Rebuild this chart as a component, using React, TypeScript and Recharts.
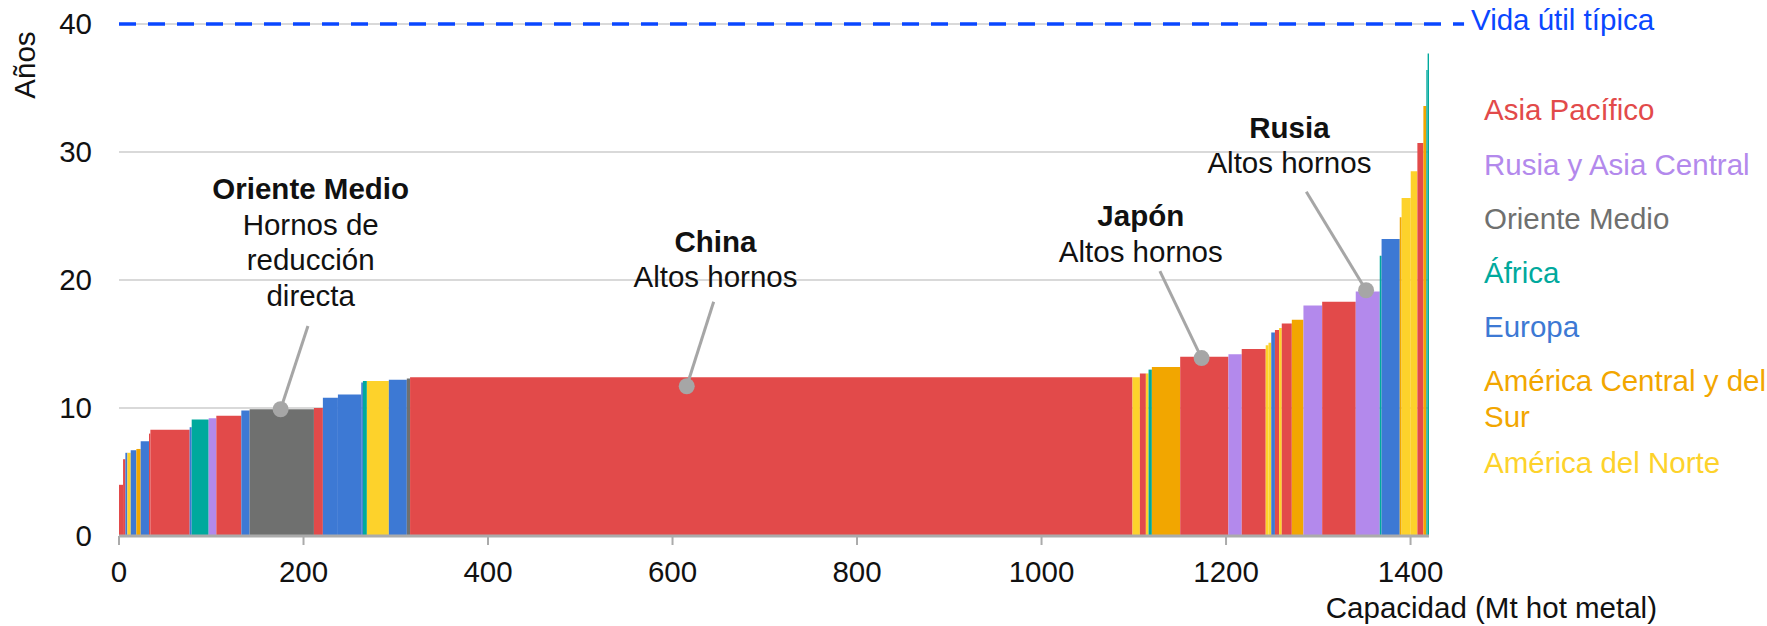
import React from "react";
import {
  ComposedChart,
  XAxis,
  YAxis,
  CartesianGrid,
  ReferenceArea,
  ReferenceLine,
  ReferenceDot,
  Customized,
} from "recharts";

// regions (legend order) and their colours
const regionNames = [
  "Asia Pacífico",
  "Rusia y Asia Central",
  "Oriente Medio",
  "África",
  "Europa",
  "América Central y del Sur",
  "América del Norte",
];
const regionCodes = ["AP", "RU", "ME", "AF", "EU", "CS", "NA"];
const regionColors = ["#e24a4a", "#b389ec", "#6f706f", "#00a99d", "#3d79d4", "#f2a600", "#fdd22b"];

// one entry per plant group, sorted by age
const capacity = [
  4.4, 2.5, 2.2, 3.6, 6.1, 4.7, 9.0, 1.5, 42.6, 2.2, 18.4, 8.3, 27.1, 9.0, 69.7, 9.7, 16.3, 25.3, 1.8, 4.3,
  23.8, 19.5, 3.5, 783.1, 8.0, 6.5, 2.9, 3.6, 30.7, 52.3, 14.4, 26.0, 3.0, 3.0, 4.0, 4.5, 2.9, 10.9, 12.6,
  20.3, 36.4, 26.0, 2.0, 19.7, 2.0, 9.9, 7.2, 6.5, 3.2, 1.4, 1.5,
];
const age = [
  4.0, 6.0, 6.5, 6.5, 6.7, 6.8, 7.4, 8.0, 8.3, 8.5, 9.1, 9.2, 9.4, 9.8, 9.9, 10.0, 10.8, 11.05, 12.0, 12.1,
  12.1, 12.2, 12.3, 12.4, 12.4, 12.7, 12.7, 13.0, 13.2, 14.0, 14.2, 14.6, 14.9, 15.1, 15.9, 16.1, 16.25, 16.6,
  16.9, 18.0, 18.3, 19.1, 21.9, 23.2, 24.9, 26.4, 28.5, 30.7, 33.6, 36.4, 37.7,
];
const region = [
  "AP", "AP", "EU", "NA", "EU", "CS", "EU", "AP", "AP", "EU", "AF", "RU", "AP", "EU", "ME", "AP", "EU", "EU",
  "EU", "AF", "NA", "EU", "ME", "AP", "NA", "AP", "NA", "AF", "CS", "AP", "RU", "AP", "NA", "NA", "EU", "AP",
  "NA", "AP", "CS", "RU", "AP", "RU", "AF", "EU", "CS", "NA", "NA", "AP", "CS", "AF", "AF",
];

const xTicks = [0, 200, 400, 600, 800, 1000, 1200, 1400];
const yTicks = [0, 10, 20, 30, 40];
const typicalLife = 40;

// callouts: title, lines, text anchor (x, age of first baseline), dot (x, age), leader top (x, age)
const callouts = [
  { title: "Oriente Medio", lines: ["Hornos de", "reducción", "directa"], tx: 207.8, ty: 26.3, dx: 175.2, dy: 9.9, lx: 204.8, ly: 16.4 },
  { title: "China", lines: ["Altos hornos"], tx: 646.6, ty: 22.2, dx: 615.4, dy: 11.7, lx: 644.6, ly: 18.3 },
  { title: "Japón", lines: ["Altos hornos"], tx: 1107.6, ty: 24.2, dx: 1173.5, dy: 13.9, lx: 1128.3, ly: 20.7 },
  { title: "Rusia", lines: ["Altos hornos"], tx: 1268.7, ty: 31.1, dx: 1351.8, dy: 19.2, lx: 1287, ly: 26.9 },
];

const FONT = "'Liberation Sans', Arial, sans-serif";
const FS = 29.5;
const colorOf = (code: string) => regionColors[regionCodes.indexOf(code)];

const segments = (() => {
  let start = 0;
  return capacity.map((c, i) => {
    const s = { x1: start, x2: start + c, age: age[i], color: colorOf(region[i]) };
    start += c;
    return s;
  });
})();

function CalloutText({ viewBox, title, lines }: any) {
  const cx = viewBox.x + viewBox.width / 2;
  const cy = viewBox.y + viewBox.height / 2;
  return (
    <g fontFamily={FONT} fontSize={FS} fill="#111" textAnchor="middle">
      <text x={cx} y={cy} fontWeight="bold">{title}</text>
      {lines.map((l: string, i: number) => (
        <text key={i} x={cx} y={cy + 35.5 * (i + 1)}>{l}</text>
      ))}
    </g>
  );
}

function Overlay() {
  const legendBaselines = [120, 175, 229, 283, 337, 391, 473];
  return (
    <g fontFamily={FONT} fontSize={FS}>
      <text x={1471} y={30} fill="#0a47ff">Vida útil típica</text>
      {regionNames.map((name, i) =>
        i === 5 ? (
          <text key={name} x={1484} y={legendBaselines[i]} fill={regionColors[i]}>
            <tspan x={1484}>América Central y del</tspan>
            <tspan x={1484} dy={36}>Sur</tspan>
          </text>
        ) : (
          <text key={name} x={1484} y={legendBaselines[i]} fill={regionColors[i]}>{name}</text>
        )
      )}
      <text x={1657} y={618} textAnchor="end" fill="#111">Capacidad (Mt hot metal)</text>
      <text x={35} y={65} textAnchor="middle" fill="#111" transform="rotate(-90 35 65)">Años</text>
    </g>
  );
}

export default function App() {
  return (
    <div style={{ position: "absolute", left: 0, top: 0, background: "#fff" }}>
      <ComposedChart
        width={1767}
        height={626}
        data={segments}
        margin={{ top: 24, right: 338, bottom: 0, left: 0 }}
      >
        <CartesianGrid vertical={false} stroke="#d9d9d9" strokeWidth={2} />
        <XAxis
          type="number"
          dataKey="x1"
          domain={[0, 1420]}
          ticks={xTicks}
          allowDataOverflow
          height={90}
          axisLine={{ stroke: "#ababab", strokeWidth: 3 }}
          tickLine={{ stroke: "#ababab", strokeWidth: 2 }}
          tickSize={9}
          tickMargin={16}
          tick={{ fill: "#111", fontSize: FS, fontFamily: FONT }}
        />
        <YAxis
          type="number"
          domain={[0, 40]}
          ticks={yTicks}
          allowDataOverflow
          width={119}
          axisLine={false}
          tickLine={false}
          tickMargin={21}
          tick={{ fill: "#111", fontSize: FS, fontFamily: FONT }}
        />
        {segments.map((s, i) => (
          <ReferenceArea
            key={i}
            x1={s.x1}
            x2={s.x2}
            y1={0}
            y2={s.age}
            fill={s.color}
            fillOpacity={1}
            stroke="none"
            ifOverflow="visible"
          />
        ))}
        <ReferenceLine
          segment={[
            { x: 0, y: typicalLife },
            { x: 1458, y: typicalLife },
          ]}
          stroke="#0a47ff"
          strokeWidth={3.5}
          strokeDasharray="17 12"
          ifOverflow="visible"
        />
        {callouts.map((c, i) => (
          <ReferenceLine
            key={"l" + i}
            segment={[
              { x: c.dx, y: c.dy },
              { x: c.lx, y: c.ly },
            ]}
            stroke="#a6a6a6"
            strokeWidth={3}
            ifOverflow="visible"
          />
        ))}
        {callouts.map((c, i) => (
          <ReferenceDot key={"d" + i} x={c.dx} y={c.dy} r={8} fill="#a6a6a6" stroke="none" ifOverflow="visible" />
        ))}
        {callouts.map((c, i) => (
          <ReferenceDot
            key={"t" + i}
            x={c.tx}
            y={c.ty}
            r={1}
            fill="none"
            stroke="none"
            ifOverflow="visible"
            label={(p: any) => <CalloutText viewBox={p.viewBox} title={c.title} lines={c.lines} />}
          />
        ))}
        <Customized component={<Overlay />} />
      </ComposedChart>
    </div>
  );
}
